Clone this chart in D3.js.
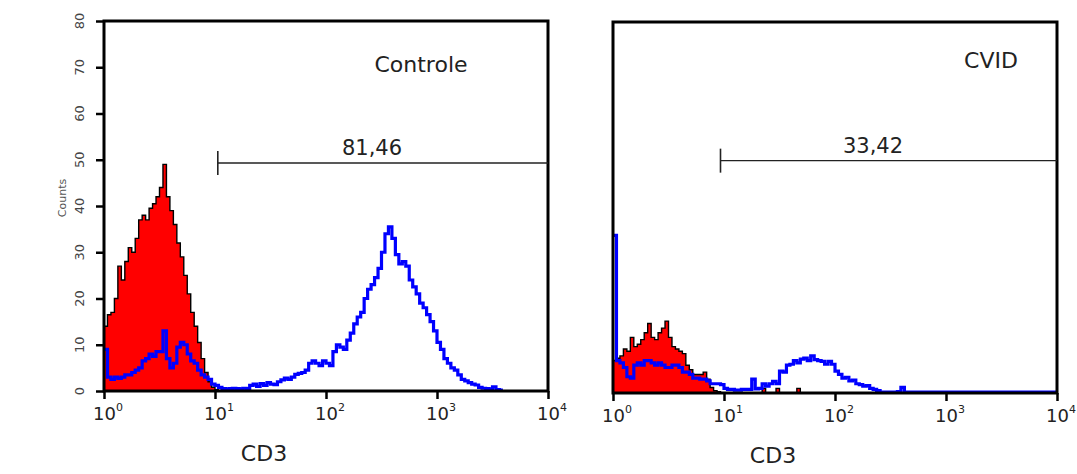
<!DOCTYPE html>
<html>
<head>
<meta charset="utf-8">
<script src="https://cdn.jsdelivr.net/npm/d3@7"></script>
<style>
  body { margin: 0; background: #fff; }
  svg { display: block; font-family: "DejaVu Sans", "Liberation Sans", sans-serif; }
</style>
</head>
<body>
<svg width="1077" height="474"></svg>
<script>
// histogram channels: 32 per decade, 4 decades (10^0 .. 10^4)
const CH_PER_DECADE = 32;
const decades = [1, 10, 100, 1000, 10000];
const countTicks = [0, 10, 20, 30, 40, 50, 60, 70, 80];

// Controle panel
const controleIsotype = [14, 16.5, 17, 20, 27, 24, 28, 31, 30, 33, 37, 38, 37, 39.5, 40.5, 42, 44, 49, 42, 39,
  36, 32, 29, 25, 21, 17, 14, 10.5, 7, 4, 2, 0.8, 0.3, 0];
const controleCD3 = [9, 3, 2.5, 3, 2.7, 3, 3.5, 3.5, 4, 4.5, 5, 6.5, 7, 8, 7.5, 8.5, 8.5, 13, 7, 5,
  6, 9.5, 10.5, 10, 8, 6.5, 6, 4.5, 3.5, 3, 2.5, 1.5, 1.2, 0.8, 0.5, 0.4, 0.5, 0.6, 0.5, 0.4,
  0.6, 0.5, 1.2, 1.5, 1, 1.6, 1.2, 1.8, 1.5, 1.4, 2, 2.4, 2.8, 2.5, 3, 3.6, 3.8, 4, 4.5, 6,
  6.5, 6, 5.5, 6.5, 6, 5.5, 8.5, 10, 9.5, 9, 11, 12.5, 14.5, 16, 17, 20, 22, 23, 24.5, 26.5,
  30, 34, 35.5, 33, 29.5, 27.5, 28, 27, 24, 22.5, 21, 19, 18, 16.5, 15, 13, 10.5, 9, 7, 6,
  5, 4.5, 3.5, 2.5, 2.2, 1.8, 1.5, 1.3, 0.8, 0.6, 0.5, 0.4, 0.9, 0.3, 0];

// CVID panel
const cvidIsotype = [7, 7.5, 8, 9.5, 9, 12, 10, 10.5, 11.5, 13, 15, 12, 11.5, 13, 14, 15.5, 12, 10, 9.5, 9,
  8.5, 6, 5, 4, 4, 4, 4.5, 3, 1.2, 0.5, 0.3, 0, 0, 0, 0, 0, 0, 0, 0, 0,
  0, 0, 0, 1, 0, 0, 0, 1, 0, 0, 0, 0, 0, 1, 0];
const cvidCD3 = [34, 7, 6.5, 5.5, 3.5, 3.2, 6, 6.5, 6, 7, 7, 6.5, 6, 6.5, 6, 5.5, 5.5, 6, 6, 5.5,
  4.5, 4.5, 4, 3.2, 3.2, 3, 3, 2.6, 2, 2, 2, 1.8, 1, 0.8, 0.8, 0.6, 0.6, 0.8, 0.8, 0.8,
  3, 0.9, 1, 2, 1.5, 2, 2.5, 2, 4.7, 4.5, 6, 6.2, 7, 6.5, 7.3, 7.5, 7, 8, 7.2, 7,
  6.8, 6.2, 6.8, 6.2, 4.7, 4, 3.2, 3.4, 2.6, 2.8, 2, 1.8, 1.5, 1.6, 1, 0.8, 0.5, 0.2, 0.2, 0.2,
  0.2, 0.2, 0.3, 1.2, 0.2, 0.2, 0.2, 0.2, 0.2, 0.2, 0.2, 0.2, 0.2, 0.2, 0.2, 0.2, 0.2, 0.2, 0.2, 0.2,
  0.2, 0.2, 0.2, 0.2, 0.2, 0.2, 0.2, 0.2, 0.2, 0.2, 0.2, 0.2, 0.2, 0.2, 0.2, 0.2, 0.2, 0.2, 0.2, 0.2,
  0.2, 0.2, 0.2, 0.2, 0.2, 0.2, 0.2, 0.2];

const panelTitles = ["Controle", "CVID"];
const gateStarts = [10.6, 9.3];
const gateLabels = ["81,46", "33,42"];

var svg = d3.select("svg");

function toSteps(values) {
  var pts = values.map(function (v, i) { return { x: Math.pow(10, i / CH_PER_DECADE), v: v }; });
  var n = values.length;
  pts.push({ x: Math.pow(10, n / CH_PER_DECADE), v: values[n - 1] });
  return pts;
}

function drawPanel(p) {
  var x = d3.scaleLog().domain([1, 1e4]).range([p.left, p.right]);
  var y = d3.scaleLinear().domain([0, 80]).range([p.bottom, p.top]);
  var g = svg.append("g");

  var red = toSteps(p.iso);
  g.append("path")
    .datum(red)
    .attr("fill", "#ff0000")
    .attr("d", d3.area().curve(d3.curveStepAfter)
      .x(function (d) { return x(d.x); })
      .y0(p.bottom)
      .y1(function (d) { return y(d.v); }));
  g.append("path")
    .datum(red)
    .attr("fill", "none")
    .attr("stroke", "#000")
    .attr("stroke-width", 1.4)
    .attr("d", d3.line().curve(d3.curveStepAfter)
      .x(function (d) { return x(d.x); })
      .y(function (d) { return y(d.v); }));

  g.append("path")
    .datum(toSteps(p.cd3))
    .attr("fill", "none")
    .attr("stroke", "#0000ff")
    .attr("stroke-width", 3.2)
    .attr("d", d3.line().curve(d3.curveStepAfter)
      .x(function (d) { return x(d.x); })
      .y(function (d) { return Math.min(y(d.v), p.bottom - 1); }));

  // frame
  g.append("rect")
    .attr("x", p.left).attr("y", p.top)
    .attr("width", p.right - p.left).attr("height", p.bottom - p.top)
    .attr("fill", "none").attr("stroke", "#000").attr("stroke-width", 3);

  var xa = g.append("g")
    .attr("transform", "translate(0," + p.bottom + ")")
    .call(d3.axisBottom(x).tickValues(decades).tickFormat("").tickSize(8));
  xa.select(".domain").remove();
  xa.selectAll("line").attr("stroke", "#000").attr("stroke-width", 2.5);

  var lbl = g.selectAll(".xl").data(decades).enter().append("text")
    .attr("class", "xl")
    .attr("x", function (d) { return x(d) - 11; })
    .attr("y", p.bottom + 29)
    .attr("fill", "#222")
    .style("font-size", "18px");
  lbl.append("tspan").text("10");
  lbl.append("tspan")
    .attr("dy", -9)
    .style("font-size", "11px")
    .text(function (d) { return Math.round(Math.log10(d)); });

  g.append("text")
    .attr("x", (p.left + p.right) / 2 - 62)
    .attr("y", p.bottom + 70)
    .attr("text-anchor", "middle")
    .attr("fill", "#222")
    .style("font-size", "22px")
    .text("CD3");

  if (p.yLabels) {
    var ya = g.append("g")
      .attr("transform", "translate(" + p.left + ",0)")
      .call(d3.axisLeft(y).tickValues(countTicks).tickFormat("").tickSize(8));
    ya.select(".domain").remove();
    ya.selectAll("line").attr("stroke", "#000").attr("stroke-width", 2.5);
    g.selectAll(".yl").data(countTicks).enter().append("text")
      .attr("class", "yl")
      .attr("transform", function (d) { return "translate(" + (p.left - 20) + "," + y(d) + ") rotate(-90)"; })
      .attr("text-anchor", "middle")
      .attr("fill", "#444")
      .style("font-size", "13px")
      .text(function (d) { return d; });
    g.append("text")
      .attr("transform", "translate(" + (p.left - 38) + "," + 198 + ") rotate(-90)")
      .attr("text-anchor", "middle")
      .attr("fill", "#555")
      .style("font-size", "11px")
      .text("Counts");
  }

  // gate marker
  var gx = x(p.gate), gy = y(p.gateY);
  g.append("line")
    .attr("x1", gx).attr("x2", p.right).attr("y1", gy).attr("y2", gy)
    .attr("stroke", "#222").attr("stroke-width", 1.4);
  g.append("line")
    .attr("x1", gx).attr("x2", gx).attr("y1", gy - 12).attr("y2", gy + 12)
    .attr("stroke", "#222").attr("stroke-width", 1.6);
  g.append("text")
    .attr("x", p.gateTextX).attr("y", gy - 8)
    .attr("text-anchor", "middle")
    .attr("fill", "#222")
    .style("font-size", "21px")
    .text(p.gateLabel);

  g.append("text")
    .attr("x", p.titleX).attr("y", p.titleY)
    .attr("text-anchor", "middle")
    .attr("fill", "#222")
    .style("font-size", "22px")
    .text(p.title);
}

drawPanel({
  left: 104, right: 548, top: 21, bottom: 391,
  iso: controleIsotype, cd3: controleCD3,
  gate: gateStarts[0], gateY: 49.3, gateLabel: gateLabels[0], gateTextX: 372,
  title: panelTitles[0], titleX: 421, titleY: 72, yLabels: true
});
drawPanel({
  left: 613, right: 1057, top: 22, bottom: 393,
  iso: cvidIsotype, cd3: cvidCD3,
  gate: gateStarts[1], gateY: 50.1, gateLabel: gateLabels[1], gateTextX: 873,
  title: panelTitles[1], titleX: 991, titleY: 68, yLabels: false
});
</script>
</body>
</html>
